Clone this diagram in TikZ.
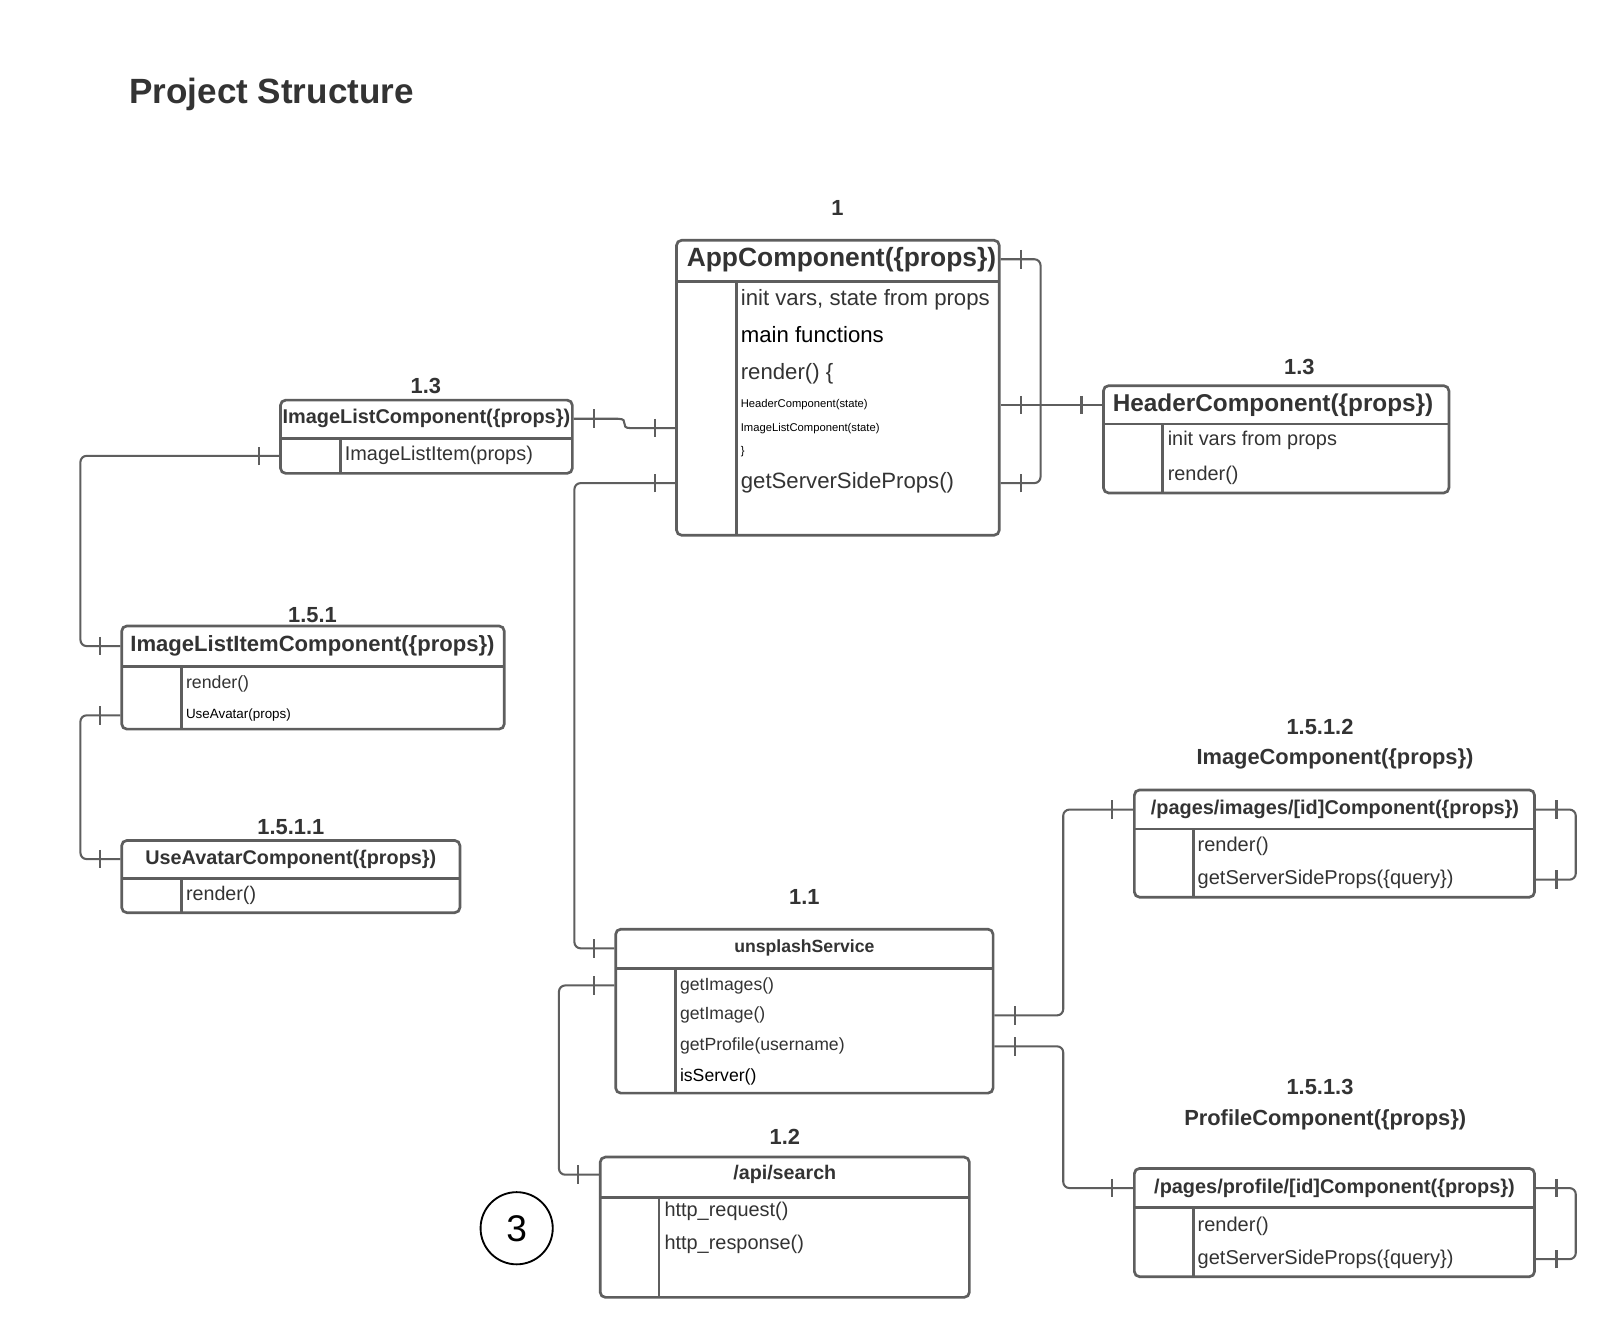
\documentclass[tikz,border=0pt]{standalone}
\usepackage{fontspec}
\setmainfont{Liberation Sans}
\usetikzlibrary{fit,decorations.markings}
\definecolor{linec}{RGB}{94,94,94}
\definecolor{txt}{RGB}{51,51,51}
\tikzset{
  umlbox/.style={draw=linec, line width=1.3pt, rounded corners=2.5pt, inner sep=0pt},
  sepline/.style={draw=linec, line width=1.3pt},
  titletext/.style={font=\bfseries\fontsize{#1}{#1}\selectfont, text=txt, inner sep=0pt, anchor=base},
  rowtext/.style={font=\fontsize{#1}{#1}\selectfont, text=txt, inner sep=0pt, anchor=base west},
  numlabel/.style={titletext=10.6},
  onetick/.style={draw=linec, line width=1pt},
  link/.style={draw=linec, line width=1pt, rounded corners=3pt,
    postaction={decorate},
    decoration={markings,
      mark=at position 10pt with {\draw[onetick] (0,-9) -- (0,9);},
      mark=at position -10pt with {\draw[onetick] (0,-9) -- (0,9);}}},
}
\begin{document}
\begin{tikzpicture}[x=0.5pt, y=-0.5pt]
\fill[white] (0,0) rectangle (1568,1298);
\useasboundingbox (0,0) rectangle (1568,1298);

\node[anchor=base west, inner sep=0pt, font=\bfseries\fontsize{17}{20}\selectfont, text=txt] (title) at (125,100) {Project Structure};

% AppComponent
\node[numlabel] (appN) at (812,208.5) {1};
\node[umlbox, fit={(656,233) (969,519)}] (app) {};
\draw[sepline] (656,273) -- (969,273);
\draw[sepline] (714,273) -- (714,519);
\node[titletext=12.8] (appT) at (816,258) {AppComponent(\{props\})};
\node[rowtext=10.75] (appA) at (718,296) {init vars, state from props};
\node[rowtext=10.75, text=black] (appB) at (718,332) {main functions};
\node[rowtext=10.75] (appC) at (718,368) {render() \{};
\node[rowtext=5.45, text=black] (appD) at (718,395) {HeaderComponent(state)};
\node[rowtext=5.45, text=black] (appE) at (718,418) {ImageListComponent(state)};
\node[rowtext=5.45, text=black] (appF) at (718,441) {\}};
\node[rowtext=10.75] (appG) at (718,474) {getServerSideProps()};

% HeaderComponent
\node[numlabel] (hdrN) at (1260,363.5) {1.3};
\node[umlbox, fit={(1070,374) (1405,478)}] (hdr) {};
\draw[sepline] (1070,411) -- (1405,411);
\draw[sepline] (1127,411) -- (1127,478);
\node[titletext=11.8] (hdrT) at (1234.5,399) {HeaderComponent(\{props\})};
\node[rowtext=9.65] (hdrA) at (1132,431.5) {init vars from props};
\node[rowtext=9.65] (hdrB) at (1132,465.5) {render()};

% ImageListComponent
\node[numlabel] (ilcN) at (413,381.5) {1.3};
\node[umlbox, fit={(272,388) (555,459)}] (ilc) {};
\draw[sepline] (272,425) -- (555,425);
\draw[sepline] (330,425) -- (330,459);
\node[titletext=9.65] (ilcT) at (413.5,411) {ImageListComponent(\{props\})};
\node[rowtext=9.65] (ilcA) at (334,447) {ImageListItem(props)};

% ImageListItemComponent
\node[numlabel] (ilicN) at (303,603.5) {1.5.1};
\node[umlbox, fit={(118,607) (489,707)}] (ilic) {};
\draw[sepline] (118,646) -- (489,646);
\draw[sepline] (176,646) -- (176,707);
\node[titletext=10.7] (ilicT) at (303,632) {ImageListItemComponent(\{props\})};
\node[rowtext=8.6] (ilicA) at (180,668) {render()};
\node[rowtext=6.5, text=black] (ilicB) at (180,697) {UseAvatar(props)};

% UseAvatarComponent
\node[numlabel] (uacN) at (282,809.5) {1.5.1.1};
\node[umlbox, fit={(118,815) (446,885)}] (uac) {};
\draw[sepline] (118,852) -- (446,852);
\draw[sepline] (176,852) -- (176,885);
\node[titletext=9.6] (uacT) at (282,838) {UseAvatarComponent(\{props\})};
\node[rowtext=9.55] (uacA) at (180,873) {render()};

% unsplashService
\node[numlabel] (unsN) at (780,877.5) {1.1};
\node[umlbox, fit={(597,901) (963,1060)}] (uns) {};
\draw[sepline] (597,939) -- (963,939);
\draw[sepline] (655,939) -- (655,1060);
\node[titletext=8.55] (unsT) at (780,924) {unsplashService};
\node[rowtext=8.55] (unsA) at (659,960) {getImages()};
\node[rowtext=8.55] (unsB) at (659,989) {getImage()};
\node[rowtext=8.55] (unsC) at (659,1019) {getProfile(username)};
\node[rowtext=8.55, text=black] (unsD) at (659,1049) {isServer()};

% /api/search
\node[numlabel] (apiN) at (761,1109.5) {1.2};
\node[umlbox, fit={(582,1122) (940,1258)}] (api) {};
\draw[sepline] (582,1161) -- (940,1161);
\draw[sepline] (639,1161) -- (639,1258);
\node[titletext=9.55] (apiT) at (761,1144) {/api/search};
\node[rowtext=9.65] (apiA) at (644,1180) {http\_request()};
\node[rowtext=9.65] (apiB) at (644,1212) {http\_response()};

% page components
\node[numlabel] (pimgN) at (1280,712.5) {1.5.1.2};
\node[numlabel] (pimgL) at (1294.5,741.5) {ImageComponent(\{props\})};
\node[umlbox, fit={(1100,766) (1488,870)}] (pimg) {};
\draw[sepline] (1100,804) -- (1488,804);
\draw[sepline] (1157,804) -- (1157,870);
\node[titletext=9.65] (pimgT) at (1294.5,790) {/pages/images/[id]Component(\{props\})};
\node[rowtext=9.7] (pimgA) at (1161,826) {render()};
\node[rowtext=9.7] (pimgB) at (1161,858) {getServerSideProps(\{query\})};

\node[numlabel] (pprN) at (1280,1061.5) {1.5.1.3};
\node[numlabel] (pprL) at (1285,1091.5) {ProfileComponent(\{props\})};
\node[umlbox, fit={(1100,1133) (1488,1238)}] (ppr) {};
\draw[sepline] (1100,1171) -- (1488,1171);
\draw[sepline] (1157,1171) -- (1157,1238);
\node[titletext=9.65] (pprT) at (1294,1157) {/pages/profile/[id]Component(\{props\})};
\node[rowtext=9.7] (pprA) at (1161,1194) {render()};
\node[rowtext=9.7] (pprB) at (1161,1226) {getServerSideProps(\{query\})};

% handwritten page badge
\node[draw=black, line width=0.9pt, circle, minimum size=35pt, inner sep=0pt,
      font=\fontsize{18}{18}\selectfont] (badge) at (501,1191) {3};

% bus positions for the connectors
\coordinate (appLoop) at (1009,0);
\coordinate (jogA) at (599,0);
\coordinate (jogB) at (612,0);
\coordinate (busA) at (557,0);
\coordinate (busB) at (78,0);
\coordinate (busC) at (542,0);
\coordinate (busD) at (1031,0);
\coordinate (loopP) at (1528,0);

% connectors
\draw[link] (app.east |- appT) -- (appLoop |- appT) -- (appLoop |- appG) -- (app.east |- appG);
\draw[link] (app.east |- hdrT) -- (hdr.west |- hdrT);
\draw[link, rounded corners=0pt] (ilc.east |- ilcT) -- (jogA |- ilcT)
  .. controls (jogB |- ilcT) and (jogA |- appE) .. (jogB |- appE) -- (app.west |- appE);
\draw[link] (app.west |- appG) -- (busA |- appG) -- (busA |- unsT) -- (uns.west |- unsT);
\draw[link] (ilc.west |- ilcA) -- (busB |- ilcA) -- (busB |- ilicT) -- (ilic.west |- ilicT);
\draw[link] (ilic.west |- ilicB) -- (busB |- ilicB) -- (busB |- uacT) -- (uac.west |- uacT);
\draw[link] (uns.west |- unsA) -- (busC |- unsA) -- (busC |- apiT) -- (api.west |- apiT);
\draw[link] (uns.east |- unsB) -- (busD |- unsB) -- (busD |- pimgT) -- (pimg.west |- pimgT);
\draw[link] (uns.east |- unsC) -- (busD |- unsC) -- (busD |- pprT) -- (ppr.west |- pprT);
\draw[link] (pimg.east |- pimgT) -- (loopP |- pimgT) -- (loopP |- pimgB) -- (pimg.east |- pimgB);
\draw[link] (ppr.east |- pprT) -- (loopP |- pprT) -- (loopP |- pprB) -- (ppr.east |- pprB);
\end{tikzpicture}
\end{document}
